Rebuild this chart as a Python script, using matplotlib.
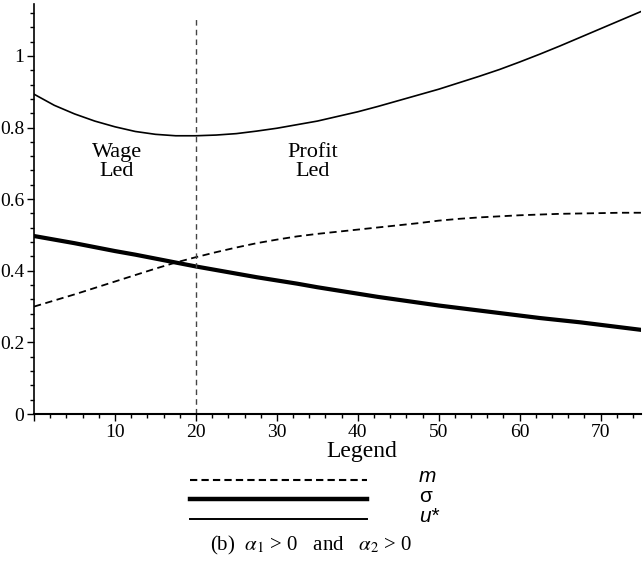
import numpy as np
import matplotlib.pyplot as plt
from matplotlib.lines import Line2D
from matplotlib.ticker import MultipleLocator, FuncFormatter

plt.rcParams['font.family'] = ['Liberation Serif', 'DejaVu Serif']
plt.rcParams['mathtext.fontset'] = 'stix'

# values
x = [0, 2.5, 5, 7.5, 10, 12.5, 15, 17.5, 20, 22.5, 25, 27.5, 30, 32.5, 35, 37.5,
     40, 42.5, 45, 47.5, 50, 52.5, 55, 57.5, 60, 62.5, 65, 67.5, 70, 72.5, 75]
u_star = [0.893, 0.862, 0.838, 0.818, 0.802, 0.789, 0.781, 0.777, 0.777, 0.779,
          0.783, 0.790, 0.798, 0.808, 0.818, 0.831, 0.844, 0.859, 0.875, 0.891,
          0.907, 0.925, 0.943, 0.962, 0.983, 1.005, 1.028, 1.052, 1.076, 1.100,
          1.124]
m_vals = [0.300, 0.317, 0.334, 0.352, 0.370, 0.388, 0.406, 0.423, 0.438, 0.452,
          0.465, 0.477, 0.487, 0.496, 0.503, 0.509, 0.515, 0.521, 0.527, 0.533,
          0.540, 0.545, 0.549, 0.552, 0.555, 0.557, 0.559, 0.560, 0.561, 0.562,
          0.562]
sigma = [0.497, 0.487, 0.477, 0.466, 0.455, 0.445, 0.434, 0.423, 0.412, 0.402,
         0.392, 0.382, 0.373, 0.364, 0.354, 0.345, 0.336, 0.327, 0.319, 0.311,
         0.303, 0.296, 0.289, 0.282, 0.275, 0.268, 0.262, 0.256, 0.249, 0.242,
         0.235]
x_split = 20
region_labels = ["Wage\nLed", "Profit\nLed"]
region_x = [10.2, 34.4]
legend_labels = ["m", "\u03c3", "u*"]

fig = plt.figure(figsize=(6.43, 5.69), dpi=100)
ax = fig.add_axes([0.053, 0.2724, 0.944, 0.7206])

ax.plot(x, m_vals, color='black', lw=1.3, dashes=(4, 2.5))
ax.plot(x, sigma, color='black', lw=3)
ax.plot(x, u_star, color='black', lw=1.2)
ax.plot([x_split, x_split], [0, 1.106], color='#444444', lw=1, dashes=(4, 3))

for lab, xp in zip(region_labels, region_x):
    ax.text(xp, 0.703, lab, ha='center', va='center', fontsize=16,
            linespacing=1.0)

ax.set_xlim(0, 75)
ax.set_ylim(0, 1.145)
ax.spines['top'].set_visible(False)
ax.spines['right'].set_visible(False)
ax.spines['left'].set_linewidth(1.2)
ax.spines['bottom'].set_linewidth(1.5)
ax.xaxis.set_major_locator(MultipleLocator(10))
ax.xaxis.set_minor_locator(MultipleLocator(2))
ax.yaxis.set_major_locator(MultipleLocator(0.2))
ax.yaxis.set_minor_locator(MultipleLocator(0.04))
ax.xaxis.set_major_formatter(FuncFormatter(lambda v, p: '' if v == 0 else '%g' % v))
ax.yaxis.set_major_formatter(FuncFormatter(lambda v, p: '%g' % v))
ax.tick_params(which='major', length=5, width=1, labelsize=14, pad=2)
ax.tick_params(which='minor', length=3, width=1)

# legend drawn Maple-style below the plot
fig.text(362 / 643, 1 - 451 / 569, "Legend", ha='center', va='center', fontsize=17)
rows = [480, 499, 519]
styles = [dict(lw=1.5, dashes=(3.5, 2)), dict(lw=3.2), dict(lw=1.4)]
for yp, st, lab in zip(rows, styles, legend_labels):
    fig.add_artist(Line2D([190 / 643, 367 / 643], [1 - yp / 569] * 2,
                          color='black', **st))
    fig.text(419 / 643, 1 - (yp - 3) / 569, lab, ha='left', va='center',
             fontsize=15, family=['Liberation Sans'],
             style='normal' if lab == "\u03c3" else 'italic')

fig.text(311 / 643, 1 - 545 / 569,
         r"(b)  $\alpha_1$ > 0   and   $\alpha_2$ > 0",
         ha='center', va='center', fontsize=15)

fig.savefig('out.png', dpi=100)
